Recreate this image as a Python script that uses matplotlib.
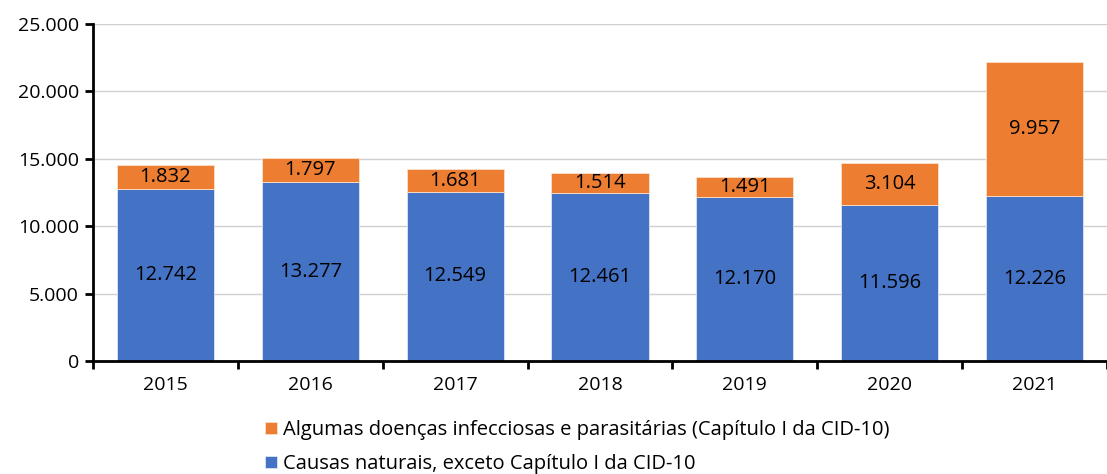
import matplotlib.pyplot as plt
import numpy as np

plt.rcParams['font.family'] = ['Open Sans', 'DejaVu Sans']

anos = ["2015", "2016", "2017", "2018", "2019", "2020", "2021"]
naturais = [12742, 13277, 12549, 12461, 12170, 11596, 12226]
infecciosas = [1832, 1797, 1681, 1514, 1491, 3104, 9957]

azul = "#4472C4"
laranja = "#ED7D31"


def fmt(v):
    return f"{v:,.0f}".replace(",", ".")


fig = plt.figure(figsize=(11.07, 4.74), dpi=100)
ax = fig.add_axes([93 / 1107, 1 - 361 / 474, 1 - 93 / 1107, (361 - 24) / 474])

x = np.arange(len(anos))
b1 = ax.bar(x, naturais, width=0.67, color=azul, edgecolor="#dce6f4", linewidth=0.6,
            label="Causas naturais, exceto Capítulo I da CID-10", zorder=3)
b2 = ax.bar(x, infecciosas, width=0.67, bottom=naturais, color=laranja, edgecolor="#fbe0cc",
            linewidth=0.6, label="Algumas doenças infecciosas e parasitárias (Capítulo I da CID-10)",
            zorder=3)

for xi, n, i in zip(x, naturais, infecciosas):
    ax.text(xi, n / 2, fmt(n), ha="center", va="center", fontsize=14.5, zorder=4)
    ax.text(xi, n + i / 2, fmt(i), ha="center", va="center", fontsize=14.5, zorder=4)

ax.set_ylim(0, 25000)
ax.set_yticks(np.arange(0, 25001, 5000))
ax.set_yticklabels([fmt(v) for v in np.arange(0, 25001, 5000)], fontsize=14)
ax.set_xlim(-0.5, 6.42)
ax.set_xticks(x)
ax.set_xticklabels(anos, fontsize=14)
ax.set_xticks(np.arange(-0.5, 7, 1), minor=True)
ax.tick_params(axis="x", which="major", length=0, pad=11)
ax.tick_params(axis="x", which="minor", length=6, width=2, direction="out")
ax.tick_params(axis="y", length=6, width=2, direction="out", pad=4)
ax.grid(axis="y", color="#d0d0d0", linewidth=1, zorder=0)
for s in ["top", "right"]:
    ax.spines[s].set_visible(False)
for s in ["left", "bottom"]:
    ax.spines[s].set_linewidth(2)
    ax.spines[s].set_zorder(5)

fig.legend([b2, b1], [b2.get_label(), b1.get_label()], loc="upper left",
           bbox_to_anchor=(265 / 1107, 1 - 420 / 474), frameon=False, fontsize=14.5,
           handlelength=0.6, handleheight=0.6, handletextpad=0.3, labelspacing=0.7,
           borderpad=0, borderaxespad=0)

fig.savefig("out.png", dpi=100)
